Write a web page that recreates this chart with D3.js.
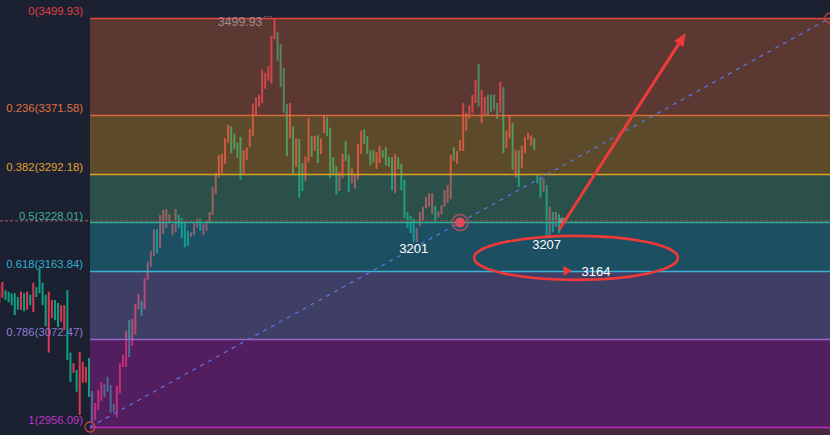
<!DOCTYPE html>
<html><head><meta charset="utf-8">
<script src="https://cdn.jsdelivr.net/npm/d3@7"></script>
<style>html,body{margin:0;padding:0;background:#1b2130;overflow:hidden}</style>
</head><body><svg id="c" width="830" height="435"></svg>
<script>
// ---------- DATA ----------
const opens = [3121,3128,3138,3136,3134,3134,3129,3112,3134,3112,3132,3109,3142,3168,3148,3132,3055,3101,3125,3121,
3096,3085,3138,3055,3028,3032,2972,3015,3015,3048,3004,2965,2979,2991,3013,3023,3012,2987,2969,3001,
3036,3036,3098,3064,3079,3113,3124,3113,3152,3169,3183,3219,3194,3213,3221,3227,3211,3215,3238,3234,
3227,3217,3209,3211,3221,3233,3211,3217,3227,3238,3266,3288,3294,3306,3334,3356,3346,3334,3342,3292,
3311,3328,3343,3370,3382,3387,3406,3417,3413,3472,3481,3465,3433,3386,3340,3356,3302,3339,3307,3283,
3308,3343,3323,3344,3319,3347,3368,3354,3315,3303,3270,3287,3336,3318,3280,3273,3285,3319,3352,3343,
3324,3324,3299,3307,3324,3328,3315,3315,3267,3315,3306,3285,3242,3237,3233,3202,3223,3231,3247,3249,
3239,3250,3235,3239,3249,3254,3259,3328,3306,3323,3323,3350,3366,3374,3387,3439,3360,3371,3398,3398,
3398,3387,3374,3408,3327,3340,3360,3288,3324,3300,3320,3338,3330,3340,3291,3288,3269,3278,3209,3242,
3222,3239];
const closes = [3145,3149,3125,3122,3118,3105,3112,3136,3110,3136,3118,3148,3129,3134,3118,3090,3136,3125,3098,3089,
3118,3118,3045,3016,3041,3003,3056,3043,3036,2996,2962,2988,3005,3016,2996,3003,2975,2976,3011,3041,
3052,3084,3049,3100,3120,3133,3104,3154,3176,3190,3219,3187,3238,3245,3246,3239,3226,3246,3221,3207,
3195,3197,3215,3227,3233,3217,3226,3231,3242,3275,3294,3318,3319,3340,3358,3320,3326,3314,3285,3324,
3328,3352,3386,3394,3398,3431,3427,3436,3476,3499.93,3443,3408,3374,3316,3387,3292,3340,3261,3270,3316,
3367,3315,3343,3307,3340,3371,3343,3287,3292,3265,3296,3319,3310,3269,3300,3292,3332,3350,3332,3319,
3304,3308,3322,3330,3314,3304,3302,3271,3319,3299,3271,3234,3221,3214,3202,3221,3242,3249,3262,3267,
3267,3227,3243,3251,3271,3278,3318,3310,3323,3338,3387,3374,3384,3398,3417,3382,3404,3395,3371,3375,
3378,3366,3415,3320,3350,3370,3298,3324,3275,3330,3342,3347,3344,3324,3280,3261,3287,3209,3249,3215,
3242,3214];
const fibHigh = 3499.93, fibLow = 2956.09;
const fibRatios = [0, 0.236, 0.382, 0.5, 0.618, 0.786, 1];
const fibLabels = ["0(3499.93)","0.236(3371.58)","0.382(3292.18)","0.5(3228.01)","0.618(3163.84)","0.786(3072.47)","1(2956.09)"];
const fibLineColors = ["#e8413c","#dc6a3c","#e0a222","#2fb08e","#3fb2d6","#9468c8","#c02ac0"];
const fibTextColors = ["#e0404a","#e07040","#e0a030","#3fb08f","#2fb0d2","#8c7cd2","#c233c8"];
const bandColors = ["#bf5c3a","#bf8926","#449873","#1d96ad","#766bb7","#a61ba8","#92344e"];
const currentPrice = 3230.5;
const peakLabel = "3499.93";
const lowMarks = [{idx:134, price:3201, label:"3201"}, {idx:177, price:3207, label:"3207"}];
const target = {price:3164, label:"3164"};
const arrowFrom = {idx:181, price:3218}, arrowTo = {idx:222, price:3480};
const ellipseCenter = {idx:186.5, price:3181};

// ---------- LAYOUT ----------
const W = 830, H = 435, plotL = 90, plotR = 830;
const svg = d3.select("#c");
const n = opens.length;
const x = d3.scaleLinear().domain([0, n - 1]).range([-0.7, 559]);
const y = d3.scaleLinear().domain([fibLow, fibHigh]).range([427, 18]);
const levels = fibRatios.map(r => fibHigh - r * (fibHigh - fibLow));
const upColor = "#db3b52", downColor = "#10a080";

// candles
const data = opens.map((o, i) => ({i, o, c: closes[i]}));
svg.append("g").selectAll("rect").data(data).join("rect")
  .attr("x", d => x(d.i) - 1).attr("width", 2)
  .attr("y", d => y(Math.max(d.o, d.c)))
  .attr("height", d => Math.max(1, Math.abs(y(d.o) - y(d.c))))
  .attr("fill", d => d.c >= d.o ? upColor : downColor);

// bands (overlay)
const bandEdges = levels.concat([null]);
const bands = d3.range(levels.length).map(k => ({
  top: y(levels[k]), bottom: k + 1 < levels.length ? y(levels[k + 1]) : H, color: bandColors[k]}));
svg.append("g").selectAll("rect").data(bands).join("rect")
  .attr("x", plotL).attr("width", plotR - plotL)
  .attr("y", d => d.top).attr("height", d => d.bottom - d.top)
  .attr("fill", d => d.color).attr("fill-opacity", 0.4);

// current price dashed line
svg.append("line").attr("x1", 0).attr("x2", W)
  .attr("y1", y(currentPrice)).attr("y2", y(currentPrice))
  .attr("stroke", "#7a4656").attr("stroke-width", 1.5).attr("stroke-dasharray", "3,2");

// fib lines
svg.append("g").selectAll("line").data(levels).join("line")
  .attr("x1", plotL).attr("x2", plotR)
  .attr("y1", d => Math.round(y(d)) + 0.5).attr("y2", d => Math.round(y(d)) + 0.5)
  .attr("stroke", (d, k) => fibLineColors[k]).attr("stroke-width", 1.3);

// fib labels
svg.append("g").selectAll("text").data(levels).join("text")
  .attr("x", 83).attr("y", d => y(d) - 3)
  .attr("text-anchor", "end").attr("font-family", "Liberation Sans, Arial, sans-serif")
  .attr("font-size", 11.3).attr("fill", (d, k) => fibTextColors[k])
  .text((d, k) => fibLabels[k]);

// diagonal dashed line
svg.append("line").attr("x1", plotL).attr("y1", y(fibLow)).attr("x2", plotR).attr("y2", y(fibHigh))
  .attr("stroke", "#5a78e8").attr("stroke-width", 1.2).attr("stroke-dasharray", "4,5");

// anchor circles
[[plotL, y(fibLow)], [plotR, y(fibHigh)]].forEach(p => {
  svg.append("circle").attr("cx", p[0]).attr("cy", p[1]).attr("r", 5)
    .attr("fill", "none").attr("stroke", "#c8404a").attr("stroke-width", 1.3);
});
// midpoint
const mx = (plotL + plotR) / 2, my = (y(fibLow) + y(fibHigh)) / 2;
svg.append("circle").attr("cx", mx).attr("cy", my).attr("r", 8)
  .attr("fill", "none").attr("stroke", "#b05060").attr("stroke-width", 2).attr("stroke-opacity", 0.8);
svg.append("circle").attr("cx", mx).attr("cy", my).attr("r", 5).attr("fill", "#e24a5a");

// current price marker
svg.append("circle").attr("cx", x(n - 1) + 3.5).attr("cy", y(currentPrice)).attr("r", 3.2)
  .attr("fill", "#c8a0a0").attr("fill-opacity", 0.55);

// peak label
const peakIdx = closes.indexOf(fibHigh);
svg.append("text").attr("x", x(peakIdx) - 12).attr("y", y(fibHigh) + 7.5)
  .attr("text-anchor", "end").attr("font-family", "Liberation Sans, Arial, sans-serif")
  .attr("font-size", 12.4).attr("fill", "#9a8c8c").text(peakLabel);
svg.append("line").attr("x1", x(peakIdx) - 10).attr("x2", x(peakIdx) - 2)
  .attr("y1", y(fibHigh) - 1.5).attr("y2", y(fibHigh) - 1.5)
  .attr("stroke", "#9a8c8c").attr("stroke-dasharray", "1,2");

// low labels
svg.append("g").selectAll("text").data(lowMarks).join("text")
  .attr("x", d => x(d.idx)).attr("y", d => y(d.price) + 10.5)
  .attr("text-anchor", "middle").attr("font-family", "Liberation Sans, Arial, sans-serif")
  .attr("font-size", 13).attr("fill", "#ffffff").text(d => d.label);

// ellipse
svg.append("ellipse").attr("cx", x(ellipseCenter.idx)).attr("cy", y(ellipseCenter.price))
  .attr("rx", 102).attr("ry", 22).attr("fill", "none")
  .attr("stroke", "#f03a3a").attr("stroke-width", 2.6);

// target marker
const ty = y(target.price), tx = x(n - 1) + 4.5;
svg.append("path").attr("d", `M${tx},${ty - 5}L${tx + 8.5},${ty}L${tx},${ty + 5}Z`).attr("fill", "#f03a3a");
svg.append("text").attr("x", tx + 18).attr("y", ty + 5.5)
  .attr("font-family", "Liberation Sans, Arial, sans-serif").attr("font-size", 13)
  .attr("fill", "#ffffff").text(target.label);

// arrow
const ax1 = x(arrowFrom.idx), ay1 = y(arrowFrom.price), ax2 = x(arrowTo.idx), ay2 = y(arrowTo.price);
const ang = Math.atan2(ay2 - ay1, ax2 - ax1), hl = 13, hw = 5.5;
const bx = ax2 - hl * Math.cos(ang), by = ay2 - hl * Math.sin(ang);
svg.append("line").attr("x1", ax1).attr("y1", ay1).attr("x2", bx).attr("y2", by)
  .attr("stroke", "#f03a3a").attr("stroke-width", 3);
svg.append("path").attr("d",
  `M${ax2},${ay2}L${bx + hw * Math.sin(ang)},${by - hw * Math.cos(ang)}L${bx - hw * Math.sin(ang)},${by + hw * Math.cos(ang)}Z`)
  .attr("fill", "#f03a3a");
</script></body></html>
